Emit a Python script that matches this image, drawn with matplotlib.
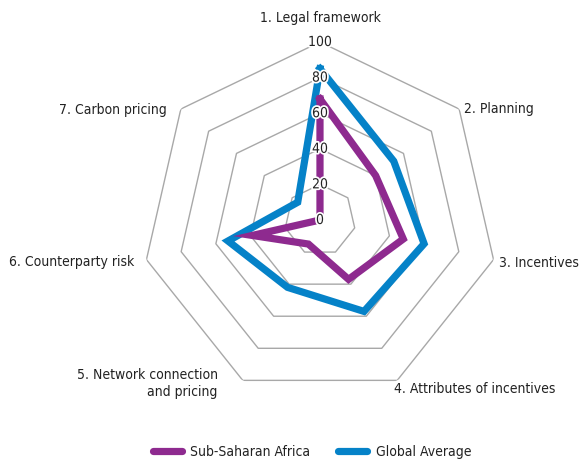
import numpy as np
import matplotlib
matplotlib.use('Agg')
import matplotlib.pyplot as plt
import matplotlib.patheffects as pe
from matplotlib import font_manager as fm

# pick a condensed face if one is installed (reference uses a condensed sans)
narrow = None
size = 9
for key, sz in [('LiberationSansNarrow-Regular', 11), ('DejaVuSansCondensed.ttf', 10)]:
    hits = [f.fname for f in fm.fontManager.ttflist if key in f.fname]
    if hits:
        narrow, size = hits[0], sz
        break
if narrow:
    fp = fm.FontProperties(fname=narrow, size=size)
else:
    fp = fm.FontProperties(family='DejaVu Sans', size=size)

categories = ['1. Legal framework', '2. Planning', '3. Incentives',
              '4. Attributes of incentives', '5. Network connection\nand pricing',
              '6. Counterparty risk', '7. Carbon pricing']
ssa = [68, 40, 48, 37, 15, 39, 0]
global_avg = [85, 53, 60, 57, 42, 53, 16]
ring_levels = [20, 40, 60, 80, 100]
tick_levels = [0, 20, 40, 60, 80, 100]

purple = '#8E2A8F'
blue = '#0582C8'

n = len(categories)
angles = np.arange(n) * 2 * np.pi / n
closed = np.append(angles, angles[0])

fig = plt.figure(figsize=(5.8, 4.59), dpi=100)
ax = fig.add_axes([0.2448, 0.1329, 0.6138, 0.7756], projection='polar')
ax.set_theta_zero_location('N')
ax.set_theta_direction(-1)
ax.set_ylim(0, 100)
ax.spines['polar'].set_visible(False)
ax.grid(False)
ax.set_xticks([])
ax.set_yticks([])
ax.patch.set_visible(False)

# heptagon rings
for lv in ring_levels:
    ax.plot(closed, [lv] * (n + 1), color='#A8A8A8', lw=1, zorder=1)

ax.plot(closed, ssa + ssa[:1], color=purple, lw=5.2, solid_joinstyle='miter',
        zorder=3, label='Sub-Saharan Africa')
ax.plot(closed, global_avg + global_avg[:1], color=blue, lw=5.2,
        solid_joinstyle='miter', zorder=2, label='Global Average')

for t in tick_levels:
    ax.text(0, t, str(t), ha='center', va='center', fontproperties=fp,
            color='#222222', zorder=5,
            path_effects=[pe.withStroke(linewidth=2.5, foreground='white')])

# category labels placed relative to outer vertices (offsets in pixels)
offsets = [(0, 24, 'center'), (5, 0, 'left'), (5, -3, 'left'), (-3, -9, 'left'),
           (-25, -3, 'right'), (-12, -2, 'right'), (-14, -1, 'right')]
for a, lab, (dx, dy, ha) in zip(angles, categories, offsets):
    ax.annotate(lab, xy=(a, 100), xytext=(dx, dy), textcoords='offset pixels',
                ha=ha, va='center', multialignment=ha, fontproperties=fp,
                linespacing=1.3, color='#222222', annotation_clip=False)

leg = fig.legend(loc='lower center', bbox_to_anchor=(0.538, -0.028), ncol=2,
                 frameon=False, prop=fp, handlelength=2.1,
                 columnspacing=2.0, handletextpad=0.6)
for h in leg.get_lines():
    h.set_linewidth(5.2)
    h.set_solid_capstyle('round')
for t in leg.get_texts():
    t.set_color('#222222')

fig.savefig('out.png', dpi=100)
